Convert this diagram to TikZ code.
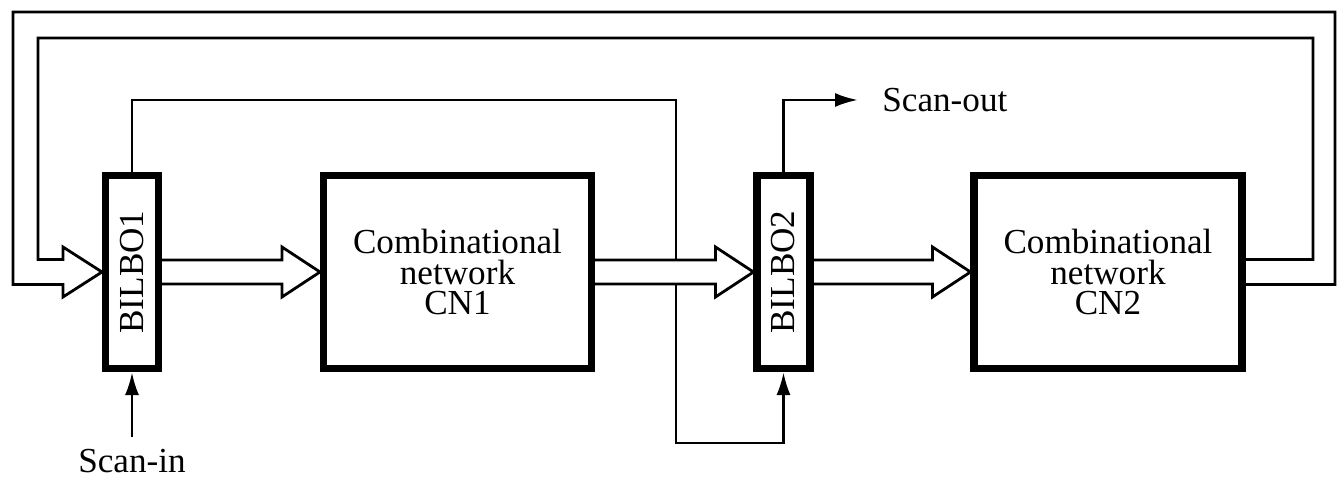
\documentclass[tikz,border=0pt]{standalone}
\usepackage{fontspec}
\setmainfont{Liberation Serif}
\usepackage{tikz}
\usetikzlibrary{calc,arrows.meta,backgrounds}
\tikzset{
  block/.style={draw, line width=2pt, minimum height=1.93cm, align=center, inner sep=0pt},
  bilbo/.style={block, minimum width=0.53cm},
  cnet/.style={block, minimum width=2.68cm},
  wire/.style={line width=0.8pt},
  sig/.style={wire, -{Latex[length=2.3mm,width=1.4mm]}},
  bus/.style={line width=0.8pt, fill=white, line join=miter},
}
% wide hollow arrow between two blocks
\newcommand{\busarrow}[2]{%
  \draw[bus] ($(#1.east)+(0,0.12)$) -- ($(#2.west)+(-0.38,0.12)$) -- ++(0,0.13)
     -- (#2.west) -- ($(#2.west)+(-0.38,-0.25)$) -- ++(0,0.13) -- ($(#1.east)+(0,-0.12)$);}

\begin{document}
\begin{tikzpicture}[font=\fontsize{10}{8.6}\selectfont]
  \useasboundingbox (0,0) rectangle (13.44,4.82);
  % registers and networks
  \node[bilbo] (bilbo1) at (1.32,2.10) {\rotatebox{90}{BILBO1}};
  \node[cnet]  (cn1)    at (4.575,2.10) {Combinational\\network\\CN1};
  \node[bilbo] (bilbo2) at (7.835,2.10) {\rotatebox{90}{BILBO2}};
  \node[cnet]  (cn2)    at (11.08,2.10) {Combinational\\network\\CN2};
  % scan chain
  \coordinate (tapA) at (6.76,3.82);
  \coordinate (tapB) at (6.76,0.39);
  \coordinate (sout) at (8.58,3.82);
  \node[anchor=west, xshift=1.2mm] (souttxt) at (sout) {Scan-out};
  \node (sintxt) at (1.32,0.21) {Scan-in};
  \begin{scope}[on background layer]
    \draw[sig] (bilbo1.north) |- (tapA) -- (tapB) -| (bilbo2.south);
    \draw[sig] (bilbo2.north) |- (sout);
    \draw[sig] (sintxt.north) -- (bilbo1.south);
    % data buses
    \busarrow{bilbo1}{cn1}
    \busarrow{cn1}{bilbo2}
    \busarrow{bilbo2}{cn2}
    % feedback bus
    \draw[bus] ($(cn2.east)+(0,0.125)$) -| (13.13,4.44) -| (0.38,2.225) -- (0.63,2.225)
       -- (0.63,2.35) -- (bilbo1.west) -- (0.63,1.85) -- (0.63,1.975)
       -| (0.13,4.70) -| (13.35,1.975) -- ($(cn2.east)+(0,-0.125)$);
  \end{scope}
\end{tikzpicture}
\end{document}
